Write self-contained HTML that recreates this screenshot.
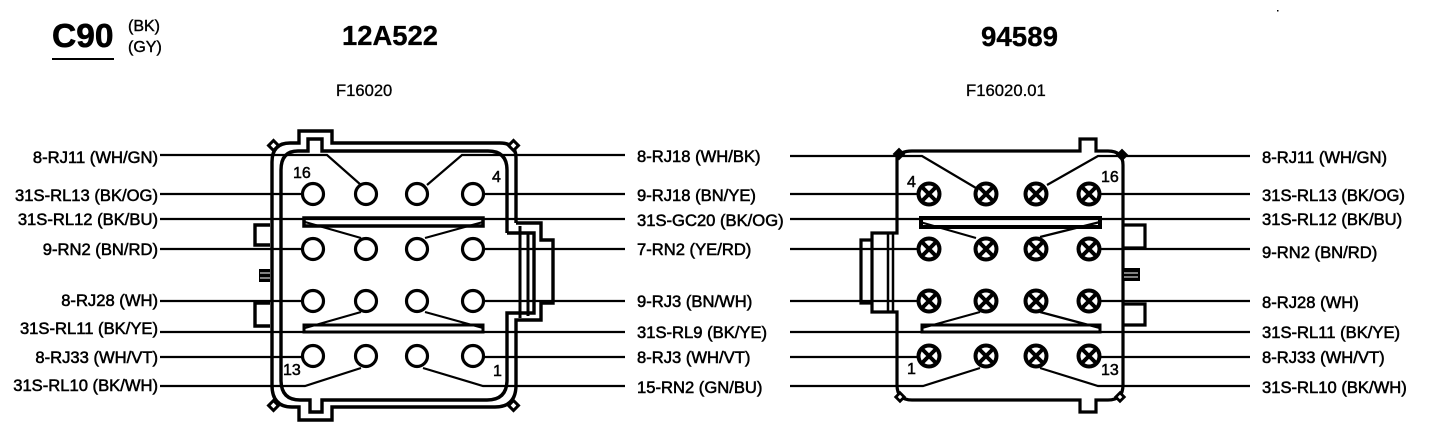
<!DOCTYPE html>
<html><head><meta charset="utf-8"><style>
html,body{margin:0;padding:0;background:#fff;width:1440px;height:424px;overflow:hidden}
svg{display:block}
text{font-family:"Liberation Sans",sans-serif;fill:#000}
.l{font-size:16.6px;stroke:#000;stroke-width:.55}
.n{font-size:16px;stroke:#000;stroke-width:.5}
.e{text-anchor:end}
path,line,circle,rect{fill:none;stroke:#000}
</style></head><body>
<svg width="1440" height="424" viewBox="0 0 1440 424">
<text x="52" y="47" font-size="33.500" font-weight="bold" stroke="#000" stroke-width=".6">C90</text>
<rect x="52" y="58" width="62" height="2" style="fill:#000;stroke:none"/>
<text x="128" y="31" font-size="16" stroke="#000" stroke-width=".4">(BK)</text>
<text x="128" y="52" font-size="16" stroke="#000" stroke-width=".4">(GY)</text>
<text x="342" y="45" font-size="27.400" font-weight="bold" stroke="#000" stroke-width=".3">12A522</text>
<text x="981" y="46" font-size="27.700" font-weight="bold" stroke="#000" stroke-width=".3">94589</text>
<text x="336" y="96" font-size="16.600" stroke="#000" stroke-width=".3">F16020</text>
<text x="966" y="96" font-size="16.700" stroke="#000" stroke-width=".3">F16020.01</text>

<!-- left wires -->
<g stroke-width="2.200">
<path d="M160 155H327L361 185M625 155H462L427 185"/>
<path d="M160 194H303M483 194H625"/>
<path d="M160 219H625"/>
<path d="M160 249H303M483 249H625"/>
<path d="M160 301H303M483 301H625"/>
<path d="M160 332H625"/>
<path d="M160 357H303M483 357H625"/>
<path d="M160 386H305L361 368M625 386H483L423 368"/>
<path d="M305 222L361 238M483 222L425 238"/>
<path d="M305 328L361 312M483 328L425 312"/>
</g>
<path d="M304 218H483V226H304Z" stroke-width="3.500"/>
<path d="M304 325H483V332H304Z" stroke-width="3"/>
<!-- left body -->
<g stroke-width="3.400">
<path d="M516 223V158Q516 143 500 143H332V131H299V143H290Q272 143 272 162V385Q272 407 292 407H299V420H332V407H495Q516 407 516 385V320H541V303H553V240H541V223H516"/>
<path d="M507 233V170Q507 151 488 151H322V139H308V151H298Q281 151 281 170V380Q281 400 300 400H310V412H322V400H487Q507 400 507 380V313H534V233H507"/>
<path d="M520 226V318M528 233V316" stroke-width="3"/>
<path d="M270 225H255V245H270M270 303H255V326H270" />
</g>
<rect x="259" y="269" width="11" height="13" style="fill:#000;stroke:none"/>
<path d="M260 273H270M260 278H270" style="stroke:#fff" stroke-width="1"/>
<g stroke-width="3">
<rect x="270" y="142" width="7" height="7" transform="rotate(45 273.500 145.500)" style="fill:#fff"/>
<rect x="510" y="142" width="7" height="7" transform="rotate(45 513.500 145.500)" style="fill:#fff"/>
<rect x="270" y="402" width="7" height="7" transform="rotate(45 273.500 405.500)" style="fill:#fff"/>
<rect x="510" y="402" width="7" height="7" transform="rotate(45 513.500 405.500)" style="fill:#fff"/>
</g>
<!-- left pins -->
<g stroke-width="3.200">
<circle cx="313" cy="194" r="10.500" style="fill:#fff"/><circle cx="366" cy="194" r="10.500" style="fill:#fff"/><circle cx="417" cy="194" r="10.500" style="fill:#fff"/><circle cx="473" cy="194" r="10.500" style="fill:#fff"/>
<circle cx="313" cy="249" r="10.500" style="fill:#fff"/><circle cx="366" cy="249" r="10.500" style="fill:#fff"/><circle cx="417" cy="249" r="10.500" style="fill:#fff"/><circle cx="473" cy="249" r="10.500" style="fill:#fff"/>
<circle cx="313" cy="301" r="10.500" style="fill:#fff"/><circle cx="366" cy="301" r="10.500" style="fill:#fff"/><circle cx="417" cy="301" r="10.500" style="fill:#fff"/><circle cx="473" cy="301" r="10.500" style="fill:#fff"/>
<circle cx="313" cy="356" r="10.500" style="fill:#fff"/><circle cx="366" cy="356" r="10.500" style="fill:#fff"/><circle cx="417" cy="356" r="10.500" style="fill:#fff"/><circle cx="473" cy="356" r="10.500" style="fill:#fff"/>
</g>
<text class="n" x="293" y="178">16</text><text class="n" x="492" y="182">4</text>
<text class="n" x="283" y="375">13</text><text class="n" x="493" y="376">1</text>

<!-- right wires -->
<g stroke-width="2.200">
<path d="M790 156H922L976 188M1250 156H1098L1047 185"/>
<path d="M790 194H918M1100 194H1250"/>
<path d="M790 219H1250"/>
<path d="M790 249H918M1100 249H1250"/>
<path d="M790 301H918M1100 301H1250"/>
<path d="M790 332H1250"/>
<path d="M790 357H918M1100 357H1250"/>
<path d="M790 386H923L980 368M1250 386H1098L1040 368"/>
<path d="M920 222L976 238M1100 222L1040 237"/>
<path d="M922 328L980 312M1100 328L1040 312"/>
</g>
<path d="M921 218H1100V227H921Z" stroke-width="4"/>
<path d="M922 325H1100V332H922Z" stroke-width="3"/>
<!-- right body -->
<g stroke-width="3.200">
<path d="M897 155V233H872V312H897V385Q897 400 912 400H1080V412H1096V400H1108Q1123 400 1123 385V165Q1123 151 1108 151H1096V139H1080V151H912Q900 151 897 158"/>
<path d="M872 240H861V303H872"/>
<path d="M888 234V312M893 234V312" stroke-width="2.500"/>
<path d="M1124 225H1145V248H1124M1124 304H1145V325H1124"/>
</g>
<rect x="1124" y="268" width="16" height="13" style="fill:#000;stroke:none"/>
<path d="M1124 273H1138M1124 277H1138" style="stroke:#fff" stroke-width="1"/>
<rect x="895" y="150" width="8" height="8" transform="rotate(45 899 154)" style="fill:#000"/>
<rect x="1118" y="151" width="8" height="8" transform="rotate(45 1122 155)" style="fill:#000"/>
<g stroke-width="2.800">
<rect x="897" y="394" width="6" height="6" transform="rotate(45 900 397)" style="fill:#fff"/>
<rect x="1117" y="394" width="6" height="6" transform="rotate(45 1120 397)" style="fill:#fff"/>
</g>
<!-- right pins -->
<defs><g id="x"><circle r="10.500" stroke-width="4" style="fill:#fff"/><path d="M-7-7L7 7M7-7L-7 7" stroke-width="4"/></g></defs>
<use href="#x" x="929" y="194"/><use href="#x" x="986" y="194"/><use href="#x" x="1036" y="194"/><use href="#x" x="1089" y="194"/>
<use href="#x" x="929" y="249"/><use href="#x" x="986" y="249"/><use href="#x" x="1036" y="249"/><use href="#x" x="1089" y="249"/>
<use href="#x" x="929" y="301"/><use href="#x" x="986" y="301"/><use href="#x" x="1036" y="301"/><use href="#x" x="1089" y="301"/>
<use href="#x" x="929" y="356"/><use href="#x" x="986" y="356"/><use href="#x" x="1036" y="356"/><use href="#x" x="1089" y="356"/>
<text class="n" x="907" y="187">4</text><text class="n" x="1101" y="182">16</text>
<text class="n" x="907" y="374">1</text><text class="n" x="1101" y="375">13</text>

<!-- labels -->
<text class="l e" x="158" y="163">8-RJ11 (WH/GN)</text>
<text class="l e" x="158" y="201">31S-RL13 (BK/OG)</text>
<text class="l e" x="158" y="225">31S-RL12 (BK/BU)</text>
<text class="l e" x="158" y="255">9-RN2 (BN/RD)</text>
<text class="l e" x="158" y="306">8-RJ28 (WH)</text>
<text class="l e" x="158" y="334">31S-RL11 (BK/YE)</text>
<text class="l e" x="158" y="363">8-RJ33 (WH/VT)</text>
<text class="l e" x="158" y="391">31S-RL10 (BK/WH)</text>
<text class="l" x="637" y="162">8-RJ18 (WH/BK)</text>
<text class="l" x="637" y="201">9-RJ18 (BN/YE)</text>
<text class="l" x="637" y="226">31S-GC20 (BK/OG)</text>
<text class="l" x="637" y="255">7-RN2 (YE/RD)</text>
<text class="l" x="637" y="307">9-RJ3 (BN/WH)</text>
<text class="l" x="637" y="338">31S-RL9 (BK/YE)</text>
<text class="l" x="637" y="363">8-RJ3 (WH/VT)</text>
<text class="l" x="637" y="393">15-RN2 (GN/BU)</text>
<text class="l" x="1262" y="163">8-RJ11 (WH/GN)</text>
<text class="l" x="1262" y="201">31S-RL13 (BK/OG)</text>
<text class="l" x="1262" y="225">31S-RL12 (BK/BU)</text>
<text class="l" x="1262" y="258">9-RN2 (BN/RD)</text>
<text class="l" x="1262" y="308">8-RJ28 (WH)</text>
<text class="l" x="1262" y="338">31S-RL11 (BK/YE)</text>
<text class="l" x="1262" y="363">8-RJ33 (WH/VT)</text>
<text class="l" x="1262" y="393">31S-RL10 (BK/WH)</text>
<rect x="1277" y="10" width="1.500" height="1.500" style="fill:#000;stroke:none"/>
</svg>
</body></html>
